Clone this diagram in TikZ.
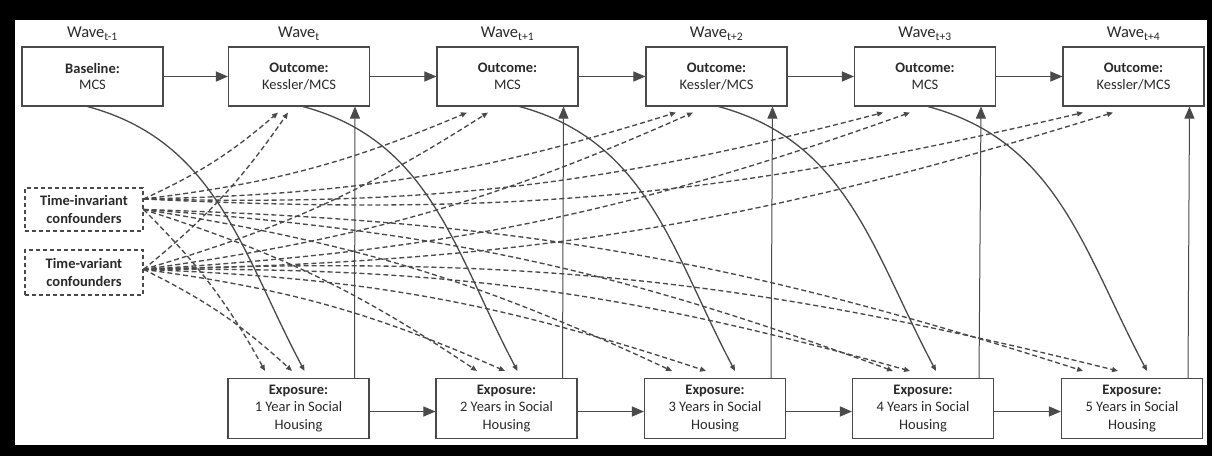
\documentclass[tikz,border=0pt]{standalone}
\usepackage{fontspec}
\setmainfont{Carlito}
\usetikzlibrary{arrows.meta,calc}
\definecolor{lc}{HTML}{4A4A4A}
\definecolor{dc}{HTML}{4A4A4A}
\definecolor{tc}{HTML}{2A2A2A}
\begin{document}
\begin{tikzpicture}[x=1pt,y=1pt,
  box/.style={draw=lc, line width=1.1pt, minimum width=141pt, minimum height=59pt, align=center,
    font=\fontsize{14.5}{16.5}\selectfont, text=tc, inner sep=0pt},
  ebox/.style={box, minimum height=60pt, font=\fontsize{14.5}{17.5}\selectfont},
  cbox/.style={draw=lc, line width=1.1pt, dash pattern=on 4pt off 3pt, minimum width=118pt, align=center,
    font=\fontsize{14.5}{18}\selectfont\bfseries, text=tc, inner sep=0pt},
  wave/.style={font=\fontsize{16.5}{18}\selectfont, text=tc, anchor=base},
  bigarrow/.style={draw=lc, line width=1pt, -{Triangle[length=12pt,width=10pt]}},
  curvearrow/.style={draw=lc, line width=1.3pt, -{Triangle[length=6pt,width=5pt]}},
  dasharrow/.style={draw=dc, line width=1.35pt, dash pattern=on 5pt off 3pt, -{Triangle[length=6pt,width=5pt]}}
]
\useasboundingbox (0,0) rectangle (1212,-456);
\fill[black] (0,0) rectangle (1212,-456);
\fill[white] (15,-20) rectangle (1207,-445);

% wave labels
\node[wave] (w0) at (92.5,-37.5) {Wave\textsubscript{t-1}};
\node[wave] (w1) at (299,-37.5) {Wave\textsubscript{t}};
\node[wave] (w2) at (507.5,-37.5) {Wave\textsubscript{t+1}};
\node[wave] (w3) at (716.5,-37.5) {Wave\textsubscript{t+2}};
\node[wave] (w4) at (925,-37.5) {Wave\textsubscript{t+3}};
\node[wave] (w5) at (1133.5,-37.5) {Wave\textsubscript{t+4}};

% top row
\node[box] (base) at (92.5,-76.5) {\textbf{Baseline:}\\MCS};
\node[box] (o1) at (299,-76.5) {\textbf{Outcome:}\\Kessler/MCS};
\node[box] (o2) at (507.5,-76.5) {\textbf{Outcome:}\\MCS};
\node[box] (o3) at (716.5,-76.5) {\textbf{Outcome:}\\Kessler/MCS};
\node[box] (o4) at (925,-76.5) {\textbf{Outcome:}\\MCS};
\node[box] (o5) at (1133.5,-76.5) {\textbf{Outcome:}\\Kessler/MCS};

% bottom row
\node[ebox] (e1) at (298.5,-408.5) {\textbf{Exposure:}\\1 Year in Social\\Housing};
\node[ebox] (e2) at (506.5,-408.5) {\textbf{Exposure:}\\2 Years in Social\\Housing};
\node[ebox] (e3) at (715,-408.5) {\textbf{Exposure:}\\3 Years in Social\\Housing};
\node[ebox] (e4) at (923,-408.5) {\textbf{Exposure:}\\4 Years in Social\\Housing};
\node[ebox] (e5) at (1132,-408.5) {\textbf{Exposure:}\\5 Years in Social\\Housing};

% confounders
\node[cbox, minimum height=43pt] (ti) at (84,-209.5) {Time-invariant\\confounders};
\node[cbox, minimum height=45pt] (tv) at (84,-272.5) {Time-variant\\confounders};

% horizontal arrows
\foreach \a/\b in {base/o1,o1/o2,o2/o3,o3/o4,o4/o5}
  \draw[bigarrow] (\a.east) -- (\b.west);
\foreach \a/\b in {e1/e2,e2/e3,e3/e4,e4/e5}
  \draw[bigarrow] ([yshift=-3pt]\a.east) -- ([yshift=-3pt]\b.west);

% vertical arrows
\foreach \i in {1,...,5}
  \draw[bigarrow] ([xshift=56pt]e\i.north) -- ([xshift=56pt]o\i.south);

% curved solid arrows
\draw[curvearrow] ([xshift=-5pt]base.south) to[out=-15,in=118] ([xshift=6pt,yshift=7pt]e1.north);
\draw[curvearrow] ([xshift=4pt]o1.south) to[out=-15,in=118] ([xshift=11pt,yshift=7pt]e2.north);
\draw[curvearrow] ([xshift=12pt]o2.south) to[out=-15,in=118] ([xshift=20pt,yshift=7pt]e3.north);
\draw[curvearrow] ([xshift=2pt]o3.south) to[out=-15,in=118] ([xshift=13pt,yshift=7pt]e4.north);
\draw[curvearrow] ([xshift=3pt]o4.south) to[out=-15,in=118] ([xshift=15pt,yshift=7pt]e5.north);

% dashed arrows from confounders to outcomes
\foreach \i/\dx in {1/-21,2/-40.5,3/-40.5,4/-42,5/-50.5}
  \draw[dasharrow] (ti.10) to[bend right=8] ([xshift=\dx pt,yshift=-6pt]o\i.south);
\foreach \i/\dx in {1/-11,2/-19.5,3/-23.5,4/-15,5/-20.5}
  \draw[dasharrow] (tv.3) to[bend right=8] ([xshift=\dx pt,yshift=-6pt]o\i.south);

% dashed arrows from confounders to exposures
\foreach \i/\dx in {1/-33.5,2/-29.5,3/-43,4/-30,5/-49}
  \draw[dasharrow] (ti.east) to[bend left=8] ([xshift=\dx pt,yshift=7pt]e\i.north);
\foreach \i/\dx in {1/-6.5,2/-1.5,3/-9,4/-13,5/-14}
  \draw[dasharrow] (tv.3) to[bend left=8] ([xshift=\dx pt,yshift=7pt]e\i.north);
\end{tikzpicture}
\end{document}
